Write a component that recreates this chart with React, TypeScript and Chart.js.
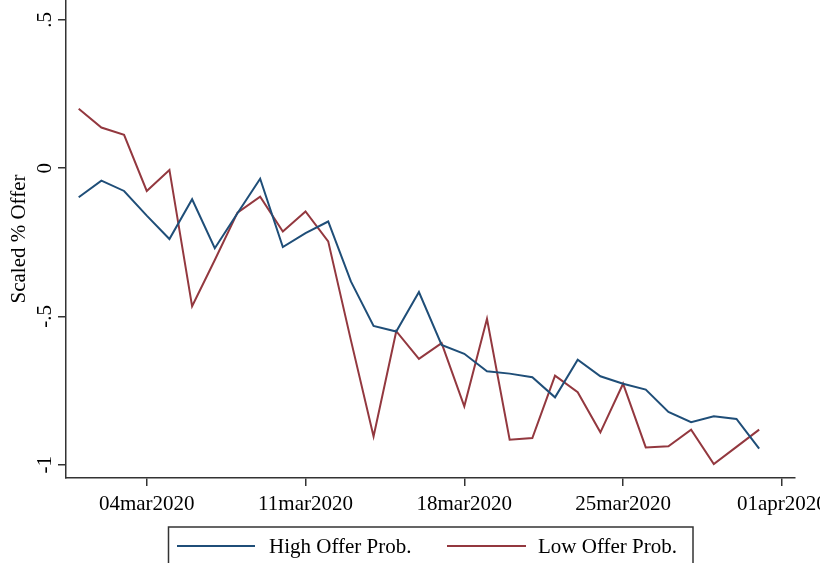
import React, { useEffect, useRef } from "react";
import { Chart, registerables } from "chart.js";

Chart.register(...registerables);

// Day of March 2020 for each observation
const days = [
  1, 2, 3, 4, 5, 6, 7, 8, 9, 10, 11, 12, 13, 14, 15, 16, 17, 18, 19, 20, 21, 22,
  23, 24, 25, 26, 27, 28, 29, 30, 31,
];

const highOffer = [
  -0.098, -0.042, -0.077, -0.16, -0.239, -0.105, -0.27, -0.152, -0.036, -0.266,
  -0.219, -0.18, -0.382, -0.532, -0.551, -0.418, -0.596, -0.626, -0.685, -0.693,
  -0.705, -0.773, -0.646, -0.702, -0.727, -0.747, -0.822, -0.857, -0.837, -0.846,
  -0.946,
];

const lowOffer = [
  0.2, 0.137, 0.112, -0.077, -0.006, -0.466, -0.31, -0.15, -0.096, -0.214,
  -0.146, -0.247, -0.58, -0.905, -0.55, -0.643, -0.59, -0.803, -0.508, -0.916,
  -0.91, -0.7, -0.756, -0.891, -0.727, -0.942, -0.938, -0.882, -0.998, -0.94,
  -0.882,
];

const seriesNames = ["High Offer Prob.", "Low Offer Prob."];
const seriesColors = ["#1f4e78", "#93383f"];

// x ticks, in days since 29feb2020
const xTickValues = [4, 11, 18, 25, 32];
const xTickLabels = ["04mar2020", "11mar2020", "18mar2020", "25mar2020", "01apr2020"];

const yTickValues = [-1, -0.5, 0, 0.5];
const yTickLabels = ["-1", "-.5", "0", ".5"];

const AXIS_COLOR = "#333333";
const SERIF = "'Liberation Serif', 'Times New Roman', serif";

// Boxed legend under the x axis, Stata style
const boxedLegend = {
  id: "boxedLegend",
  afterDraw(chart: any) {
    const ctx = chart.ctx;
    ctx.save();
    ctx.strokeStyle = AXIS_COLOR;
    ctx.lineWidth = 1.5;
    ctx.strokeRect(168.5, 527, 524.5, 50);

    const items = [
      { lineX: 177, lineEnd: 255, textX: 269 },
      { lineX: 447, lineEnd: 526, textX: 538 },
    ];
    chart.data.datasets.forEach((ds: any, i: number) => {
      const it = items[i];
      ctx.strokeStyle = ds.borderColor;
      ctx.lineWidth = 2;
      ctx.beginPath();
      ctx.moveTo(it.lineX, 546);
      ctx.lineTo(it.lineEnd, 546);
      ctx.stroke();
      ctx.fillStyle = "#000";
      ctx.font = `21px ${SERIF}`;
      ctx.textBaseline = "middle";
      ctx.textAlign = "left";
      ctx.fillText(ds.label, it.textX, 547);
    });
    ctx.restore();
  },
};

export default function App() {
  const canvasRef = useRef<HTMLCanvasElement | null>(null);

  useEffect(() => {
    const canvas = canvasRef.current;
    if (!canvas) return;

    const chart = new Chart(canvas, {
      type: "line",
      data: {
        datasets: [highOffer, lowOffer].map((vals, s) => ({
          label: seriesNames[s],
          data: days.map((d, i) => ({ x: d, y: vals[i] })),
          borderColor: seriesColors[s],
          backgroundColor: seriesColors[s],
          borderWidth: 2,
          pointRadius: 0,
          tension: 0,
          fill: false,
        })),
      },
      options: {
        responsive: false,
        animation: false,
        devicePixelRatio: 1,
        layout: { padding: { left: 0, right: 25, top: 0, bottom: 0 } },
        plugins: {
          legend: { display: false },
          tooltip: { enabled: false },
        },
        scales: {
          x: {
            type: "linear",
            min: 0.44,
            max: 32.58,
            afterBuildTicks: (scale: any) => {
              scale.ticks = xTickValues.map((v) => ({ value: v }));
            },
            afterFit: (scale: any) => {
              scale.height = 85;
              scale.paddingLeft = 0;
              scale.paddingRight = 0;
            },
            ticks: {
              autoSkip: false,
              maxRotation: 0,
              minRotation: 0,
              padding: 6,
              color: "#000",
              font: { family: SERIF, size: 21 },
              callback: (v: any) => {
                const k = xTickValues.indexOf(Number(v));
                return k >= 0 ? xTickLabels[k] : "";
              },
            },
            grid: {
              display: true,
              drawOnChartArea: false,
              drawTicks: true,
              tickLength: 8,
              color: AXIS_COLOR,
              lineWidth: 1.5,
            },
            border: { display: true, color: AXIS_COLOR, width: 1.5 },
          },
          y: {
            type: "linear",
            min: -1.045,
            max: 0.567,
            afterBuildTicks: (scale: any) => {
              scale.ticks = yTickValues.map((v) => ({ value: v }));
            },
            afterFit: (scale: any) => {
              scale.width = 66;
              scale.paddingTop = 0;
              scale.paddingBottom = 0;
            },
            ticks: {
              autoSkip: false,
              minRotation: 90,
              maxRotation: 90,
              crossAlign: "center",
              padding: 1,
              color: "#000",
              font: { family: SERIF, size: 21 },
              callback: (v: any) => {
                const k = yTickValues.indexOf(Number(v));
                return k >= 0 ? yTickLabels[k] : "";
              },
            },
            title: {
              display: true,
              text: "Scaled % Offer",
              color: "#000",
              font: { family: SERIF, size: 21 },
              padding: { top: 7, bottom: 0 },
            },
            grid: {
              display: true,
              drawOnChartArea: false,
              drawTicks: true,
              tickLength: 8,
              color: AXIS_COLOR,
              lineWidth: 1.5,
            },
            border: { display: true, color: AXIS_COLOR, width: 1.5 },
          },
        },
      },
      plugins: [boxedLegend],
    });

    return () => chart.destroy();
  }, []);

  return (
    <div style={{ position: "absolute", left: 0, top: 0, width: 820, height: 563, background: "#fff" }}>
      <canvas ref={canvasRef} width={820} height={563} style={{ display: "block" }} />
    </div>
  );
}
